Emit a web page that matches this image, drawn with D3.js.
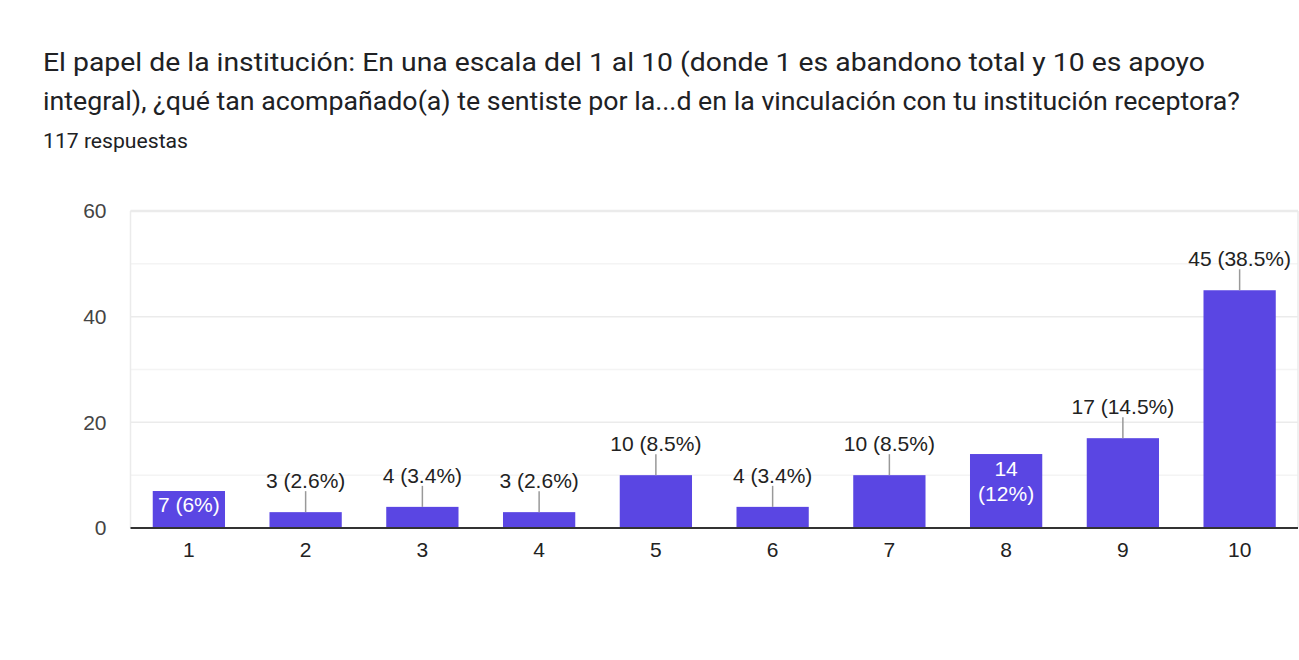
<!DOCTYPE html>
<html>
<head>
<meta charset="utf-8">
<script src="https://cdn.jsdelivr.net/npm/d3@7"></script>
<style>
  body { margin: 0; background: #fff; }
  svg { display: block; }
</style>
</head>
<body>
<div id="chart"></div>
<script>
// chart data
var titleLines = [
    "El papel de la institución: En una escala del 1 al 10 (donde 1 es abandono total y 10 es apoyo",
    "integral), ¿qué tan acompañado(a) te sentiste por la...d en la vinculación con tu institución receptora?"
];
var titleWidths = [1162, 1197];
var subtitle = "117 respuestas";
var categories = ["1", "2", "3", "4", "5", "6", "7", "8", "9", "10"];
var counts = [7, 3, 4, 3, 10, 4, 10, 14, 17, 45];
var yTicks = [0, 20, 40, 60];
var yMinorTicks = [10, 30, 50];
var total = d3.sum(counts);

var svgWidth = 1299;
var svgHeight = 660;

// plot area
var margin = { top: 211, bottom: 132, left: 130.5, right: 1 };
var width = svgWidth - margin.left - margin.right;
var height = svgHeight - margin.top - margin.bottom;

var svg = d3.select("#chart")
    .append("svg")
    .attr("width", svgWidth)
    .attr("height", svgHeight);

// title + subtitle
svg.selectAll(".title")
    .data(titleLines)
    .enter()
    .append("text")
    .attr("class", "title")
    .attr("x", 43)
    .attr("y", (d, i) => 71 + i * 39)
    .attr("font-family", "Roboto")
    .attr("font-size", "26.5px")
    .attr("fill", "#202124")
    .attr("textLength", (d, i) => titleWidths[i])
    .attr("lengthAdjust", "spacingAndGlyphs")
    .text(d => d);

svg.append("text")
    .attr("x", 43)
    .attr("y", 148)
    .attr("font-family", "Roboto")
    .attr("font-size", "20px")
    .attr("fill", "#202124")
    .attr("textLength", 145)
    .attr("lengthAdjust", "spacingAndGlyphs")
    .text(subtitle);

var chartGroup = svg.append("g")
    .attr("transform", `translate(${margin.left}, ${margin.top})`);

// scales
var pad = 0.381;
var xScale = d3.scaleBand()
    .domain(categories)
    .range([0, width])
    .paddingInner(pad)
    .paddingOuter(pad / 2);

var yScale = d3.scaleLinear()
    .domain([0, 60])
    .range([height, 0]);

// minor gridlines
chartGroup.selectAll(".minor")
    .data(yMinorTicks)
    .enter()
    .append("line")
    .attr("x1", 0)
    .attr("x2", width)
    .attr("y1", d => yScale(d))
    .attr("y2", d => yScale(d))
    .attr("stroke", "#f4f4f4")
    .attr("stroke-width", 1.5);

// major gridlines
chartGroup.selectAll(".major")
    .data(yTicks.slice(1))
    .enter()
    .append("line")
    .attr("x1", 0)
    .attr("x2", width)
    .attr("y1", d => yScale(d))
    .attr("y2", d => yScale(d))
    .attr("stroke", "#ebebeb")
    .attr("stroke-width", 1.5);

// frame sides
chartGroup.append("line")
    .attr("x1", 0).attr("x2", 0)
    .attr("y1", 0).attr("y2", height)
    .attr("stroke", "#ebebeb")
    .attr("stroke-width", 1.5);
chartGroup.append("line")
    .attr("x1", width).attr("x2", width)
    .attr("y1", 0).attr("y2", height)
    .attr("stroke", "#ebebeb")
    .attr("stroke-width", 1.5);
chartGroup.append("line")
    .attr("x1", 0).attr("x2", width)
    .attr("y1", 0).attr("y2", 0)
    .attr("stroke", "#ebebeb")
    .attr("stroke-width", 2.5);

// y axis
var leftAxis = d3.axisLeft(yScale)
    .tickValues(yTicks)
    .tickSize(0)
    .tickPadding(24);
var yAxisGroup = chartGroup.append("g").call(leftAxis);
yAxisGroup.select(".domain").remove();
yAxisGroup.selectAll("text")
    .attr("font-family", "Liberation Sans, Arial")
    .attr("font-size", "21px")
    .attr("fill", "#444");

// x axis
var bottomAxis = d3.axisBottom(xScale)
    .tickSize(0)
    .tickPadding(14);
var xAxisGroup = chartGroup.append("g")
    .attr("transform", `translate(0, ${height})`)
    .call(bottomAxis);
xAxisGroup.select(".domain").remove();
xAxisGroup.selectAll("text")
    .attr("font-family", "Liberation Sans, Arial")
    .attr("font-size", "21px")
    .attr("fill", "#222");

// bars
chartGroup.selectAll(".bar")
    .data(counts)
    .enter()
    .append("rect")
    .attr("class", "bar")
    .attr("x", (d, i) => xScale(categories[i]))
    .attr("y", d => yScale(d))
    .attr("width", xScale.bandwidth())
    .attr("height", d => height - yScale(d))
    .attr("fill", "#5a46e3");

// baseline
chartGroup.append("line")
    .attr("x1", 0).attr("x2", width)
    .attr("y1", height).attr("y2", height)
    .attr("stroke", "#333")
    .attr("stroke-width", 2);

// labels
function pct(v) {
    var p = Math.round(v / total * 1000) / 10;
    return p + "%";
}

var labelFont = "Liberation Sans, Arial";
var labelSize = 21;
var lineH = 25;

function textWidth(s) {
    var tmp = chartGroup.append("text")
        .attr("font-family", labelFont)
        .attr("font-size", labelSize + "px")
        .text(s);
    var w = tmp.node().getComputedTextLength();
    tmp.remove();
    return w;
}

counts.forEach(function(v, i) {
    var cx = xScale(categories[i]) + xScale.bandwidth() / 2;
    var top = yScale(v);
    var barH = height - top;
    var full = v + " (" + pct(v) + ")";
    var lines2 = [String(v), "(" + pct(v) + ")"];
    var bw = xScale.bandwidth();

    if (textWidth(full) + 6 <= bw && barH >= lineH + 8) {
        // one line inside the bar
        chartGroup.append("text")
            .attr("text-anchor", "middle")
            .attr("font-family", labelFont)
            .attr("font-size", labelSize + "px")
            .attr("fill", "#fff")
            .attr("x", cx)
            .attr("y", top + 21)
            .text(full);
    } else if (d3.max(lines2, textWidth) + 6 <= bw && barH >= lineH * 2 + 16) {
        // two lines inside the bar
        chartGroup.selectAll(null)
            .data(lines2)
            .enter()
            .append("text")
            .attr("text-anchor", "middle")
            .attr("font-family", labelFont)
            .attr("font-size", labelSize + "px")
            .attr("fill", "#fff")
            .attr("x", cx)
            .attr("y", (d, k) => top + 22 + k * lineH)
            .text(d => d);
    } else {
        // outside with stem
        chartGroup.append("line")
            .attr("x1", cx).attr("x2", cx)
            .attr("y1", top).attr("y2", top - 21)
            .attr("stroke", "#999")
            .attr("stroke-width", 1.5);
        chartGroup.append("text")
            .attr("text-anchor", "middle")
            .attr("font-family", labelFont)
            .attr("font-size", labelSize + "px")
            .attr("fill", "#222")
            .attr("x", cx)
            .attr("y", top - 24)
            .text(full);
    }
});
</script>
</body>
</html>
